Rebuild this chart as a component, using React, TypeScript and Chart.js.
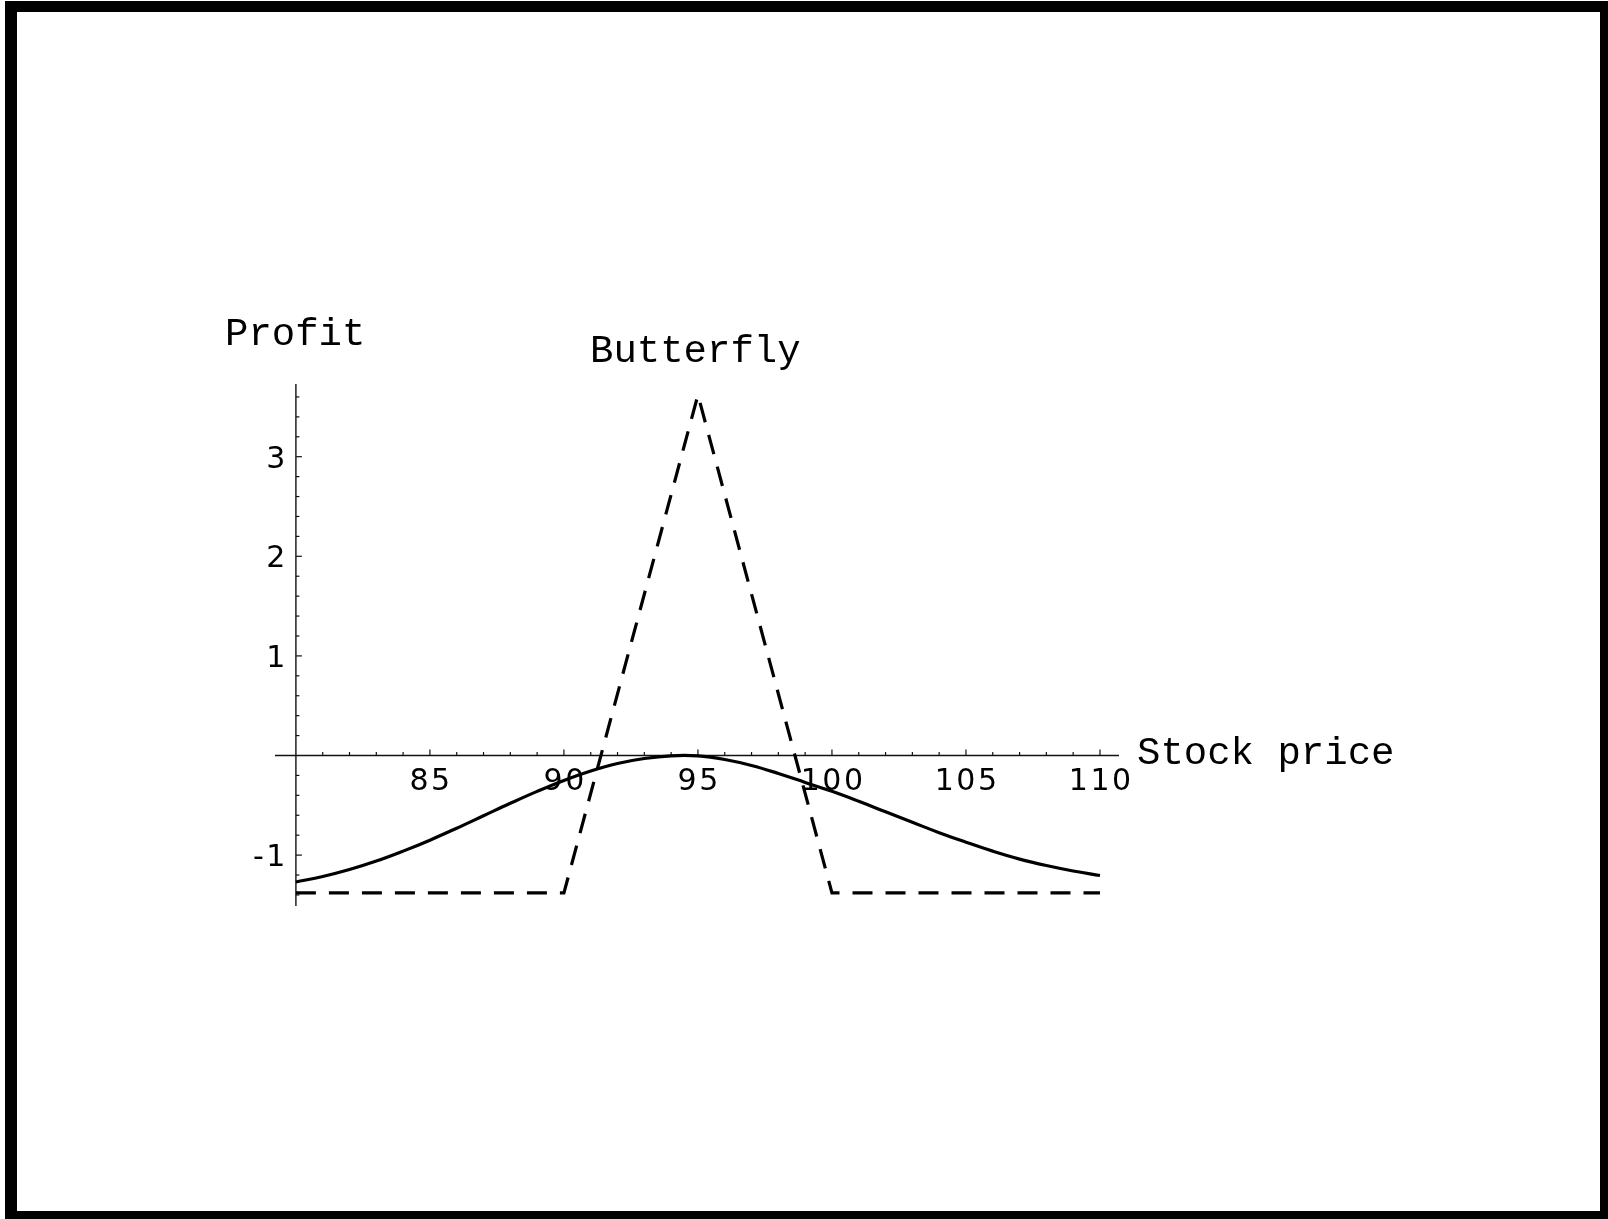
import { useEffect, useRef } from "react";
import { Chart, registerables } from "chart.js";

Chart.register(...registerables);

// Stock prices for the smooth (current value) curve
const stockPrices = [
  80, 81, 82, 83, 84, 85, 86, 87, 88, 89, 90, 91, 92, 93, 94, 95,
  96, 97, 98, 99, 100, 101, 102, 103, 104, 105, 106, 107, 108, 109, 110,
];
const currentProfit = [
  -1.27, -1.215, -1.145, -1.06, -0.96, -0.85, -0.73, -0.605, -0.48, -0.36,
  -0.25, -0.155, -0.08, -0.03, -0.003, -0.004, -0.04, -0.1, -0.18, -0.27,
  -0.36, -0.46, -0.565, -0.67, -0.775, -0.87, -0.96, -1.04, -1.105, -1.16,
  -1.205,
];

// Payoff at expiry (dashed)
const payoffPrices = [80, 90, 95, 100, 110];
const payoffProfit = [-1.38, -1.38, 3.62, -1.38, -1.38];

const xTickLabels = [85, 90, 95, 100, 105, 110];
const yTickLabels = [-1, 1, 2, 3];

const chartTitle = "Butterfly";
const xAxisTitle = "Stock price";
const yAxisTitle = "Profit";

const X_MIN = 79.22;
const X_MAX = 110.71;
const Y_MIN = -1.511;
const Y_MAX = 3.73;

const W = 1608;
const H = 1219;

const decorPlugin = {
  id: "decor",
  beforeDraw(chart: any) {
    const ctx = chart.ctx;
    ctx.save();
    ctx.fillStyle = "#ffffff";
    ctx.fillRect(0, 0, W, H);
    ctx.fillStyle = "#000000";
    ctx.fillRect(5, 1, W - 5, 11); // top
    ctx.fillRect(5, 1, 12, H - 1); // left
    ctx.fillRect(W - 8, 1, 8, H - 1); // right
    ctx.fillRect(5, H - 8, W - 5, 8); // bottom
    ctx.restore();
  },
  beforeDatasetsDraw(chart: any) {
    const ctx = chart.ctx;
    const xs = chart.scales.x;
    const ys = chart.scales.y;
    const ca = chart.chartArea;
    const y0 = ys.getPixelForValue(0);
    const x0 = xs.getPixelForValue(80);
    ctx.save();
    ctx.strokeStyle = "#111111";
    ctx.lineWidth = 1.4;
    // x axis
    ctx.beginPath();
    ctx.moveTo(ca.left, y0);
    ctx.lineTo(ca.right, y0);
    ctx.stroke();
    // y axis
    ctx.beginPath();
    ctx.moveTo(x0, ca.top);
    ctx.lineTo(x0, ca.bottom);
    ctx.stroke();
    ctx.lineWidth = 1.2;
    // x ticks
    for (let v = 81; v <= 110; v++) {
      const px = xs.getPixelForValue(v);
      const len = v % 5 === 0 ? 6 : 3.5;
      ctx.beginPath();
      ctx.moveTo(px, y0);
      ctx.lineTo(px, y0 - len);
      ctx.stroke();
    }
    // y ticks
    for (let i = -7; i <= 18; i++) {
      if (i === 0) continue;
      const v = i * 0.2;
      const py = ys.getPixelForValue(v);
      const len = i % 5 === 0 ? 6 : 3.5;
      ctx.beginPath();
      ctx.moveTo(x0, py);
      ctx.lineTo(x0 + len, py);
      ctx.stroke();
    }
    ctx.restore();
  },
  afterDraw(chart: any) {
    const ctx = chart.ctx;
    const xs = chart.scales.x;
    const ys = chart.scales.y;
    const y0 = ys.getPixelForValue(0);
    const x0 = xs.getPixelForValue(80);
    ctx.save();
    ctx.fillStyle = "#000000";
    ctx.font = '30px "DejaVu Sans"';
    (ctx as any).letterSpacing = "2.5px";
    ctx.textBaseline = "alphabetic";
    ctx.textAlign = "center";
    for (const v of xTickLabels) {
      ctx.fillText(String(v), xs.getPixelForValue(v) + 1.2, y0 + 34);
    }
    ctx.textAlign = "right";
    for (const v of yTickLabels) {
      ctx.fillText(String(v), x0 - 8, ys.getPixelForValue(v) + 11);
    }
    (ctx as any).letterSpacing = "0px";
    ctx.font = '39px "Liberation Mono"';
    ctx.textAlign = "left";
    ctx.fillText(yAxisTitle, 225, 345);
    ctx.fillText(xAxisTitle, 1137, 764);
    ctx.fillText(chartTitle, 590, 362);
    ctx.restore();
  },
};

export default function App() {
  const canvasRef = useRef<HTMLCanvasElement | null>(null);

  useEffect(() => {
    const canvas = canvasRef.current;
    if (!canvas) return;
    const chart = new Chart(canvas, {
      type: "line",
      data: {
        datasets: [
          {
            label: "Current value",
            data: stockPrices.map((x, i) => ({ x, y: currentProfit[i] })),
            borderColor: "#000000",
            borderWidth: 3.2,
            pointRadius: 0,
            fill: false,
            tension: 0.4,
          },
          {
            label: "Payoff",
            data: payoffPrices.map((x, i) => ({ x, y: payoffProfit[i] })),
            borderColor: "#000000",
            borderWidth: 3.2,
            borderDash: [20, 13],
            pointRadius: 0,
            fill: false,
            tension: 0,
          },
        ],
      },
      options: {
        responsive: false,
        animation: false,
        devicePixelRatio: 1,
        layout: {
          padding: { left: 275, right: W - 1119, top: 384, bottom: H - 906 },
        },
        scales: {
          x: { type: "linear", min: X_MIN, max: X_MAX, display: false },
          y: { type: "linear", min: Y_MIN, max: Y_MAX, display: false },
        },
        plugins: {
          legend: { display: false },
          tooltip: { enabled: false },
        },
      },
      plugins: [decorPlugin],
    } as any);
    return () => chart.destroy();
  }, []);

  return (
    <div style={{ position: "fixed", left: 0, top: 0, width: W, height: H }}>
      <canvas
        ref={canvasRef}
        width={W}
        height={H}
        style={{ display: "block", width: W, height: H }}
      />
    </div>
  );
}
